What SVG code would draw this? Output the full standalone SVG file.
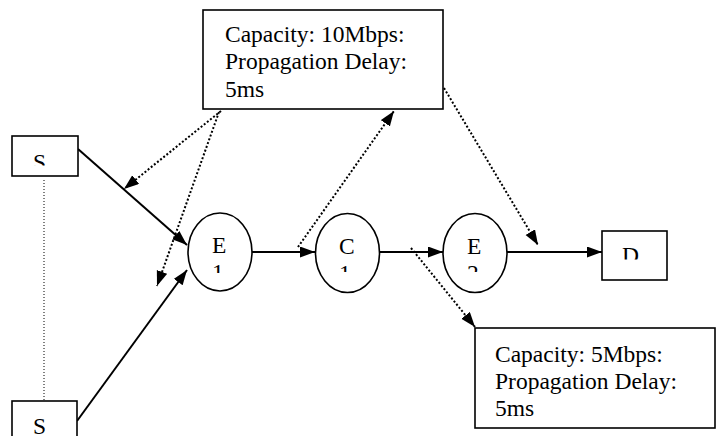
<svg xmlns="http://www.w3.org/2000/svg" width="718" height="436" viewBox="0 0 718 436">
<style>
.box{fill:#fff;stroke:#000;stroke-width:1.6}
.ell{fill:#fff;stroke:#000;stroke-width:1.6}
.t{font-family:"Liberation Serif","Times New Roman",serif;font-size:23.5px;fill:#000}
.solid{fill:none;stroke:#000;stroke-width:2;marker-end:url(#ah)}
.dot{fill:none;stroke:#000;stroke-width:2;stroke-dasharray:2 2;marker-end:url(#ah)}
.thin{fill:none;stroke:#000;stroke-width:1;stroke-dasharray:1 2}
</style>
<defs>
<marker id="ah" markerUnits="userSpaceOnUse" markerWidth="16" markerHeight="12" refX="15" refY="5.5" orient="auto">
<path d="M0,0 L15,5.5 L0,11 z" fill="#000"/>
</marker>
<clipPath id="cS1"><rect x="12" y="136" width="66" height="29.5"/></clipPath>
<clipPath id="cD"><rect x="602" y="231" width="65" height="28.5"/></clipPath>
<clipPath id="cE1"><rect x="190" y="214" width="60" height="59"/></clipPath>
<clipPath id="cC1"><rect x="318" y="214" width="60" height="58"/></clipPath>
<clipPath id="cE2"><rect x="445" y="214" width="60" height="58"/></clipPath>
</defs>
<g id="connectors">
<line class="thin" x1="44" y1="180" x2="44" y2="401"/>
<line class="solid" x1="78" y1="149" x2="187" y2="245"/>
<line class="solid" x1="77" y1="421" x2="187" y2="270"/>
<line class="solid" x1="252" y1="252" x2="315" y2="252"/>
<line class="solid" x1="379" y1="252" x2="443" y2="252"/>
<line class="solid" x1="507" y1="252" x2="602" y2="252"/>
<line class="dot" x1="221" y1="111" x2="124" y2="189"/>
<line class="dot" x1="219" y1="112" x2="157" y2="286"/>
<line class="dot" x1="298" y1="247" x2="394" y2="111"/>
<line class="dot" x1="444" y1="88" x2="538" y2="245"/>
<line class="dot" x1="411" y1="248" x2="475" y2="327"/>
</g>
<g id="box-top">
<rect class="box" x="203" y="10" width="240" height="99"/>
<text class="t" x="225" y="42">Capacity: 10Mbps:</text>
<text class="t" x="225" y="69">Propagation Delay:</text>
<text class="t" x="225" y="96.5">5ms</text>
</g>
<g id="box-bottom">
<rect class="box" x="475" y="328" width="240" height="100"/>
<text class="t" x="495" y="361.5">Capacity: 5Mbps:</text>
<text class="t" x="495" y="388.5">Propagation Delay:</text>
<text class="t" x="495" y="415.5">5ms</text>
</g>
<g id="node-S1">
<rect class="box" x="12" y="136" width="66" height="40"/>
<text class="t" x="33" y="169.5" clip-path="url(#cS1)">S</text>
</g>
<g id="node-S2">
<rect class="box" x="12" y="401" width="65" height="45"/>
<text class="t" x="33" y="434">S</text>
</g>
<g id="node-E1">
<ellipse class="ell" cx="220" cy="252" rx="32" ry="39"/>
<g clip-path="url(#cE1)"><text class="t" x="212" y="253">E</text><text class="t" x="212" y="280">1</text></g>
</g>
<g id="node-C1">
<ellipse class="ell" cx="347.5" cy="253" rx="32" ry="39.5"/>
<g clip-path="url(#cC1)"><text class="t" x="339" y="254">C</text><text class="t" x="339" y="281">1</text></g>
</g>
<g id="node-E2">
<ellipse class="ell" cx="475" cy="253" rx="32" ry="39.5"/>
<g clip-path="url(#cE2)"><text class="t" x="467" y="253.5">E</text><text class="t" x="467" y="280.5">2</text></g>
</g>
<g id="node-D">
<rect class="box" x="602" y="231" width="65" height="49"/>
<text class="t" x="622" y="262.5" clip-path="url(#cD)">D</text>
</g>
</svg>
